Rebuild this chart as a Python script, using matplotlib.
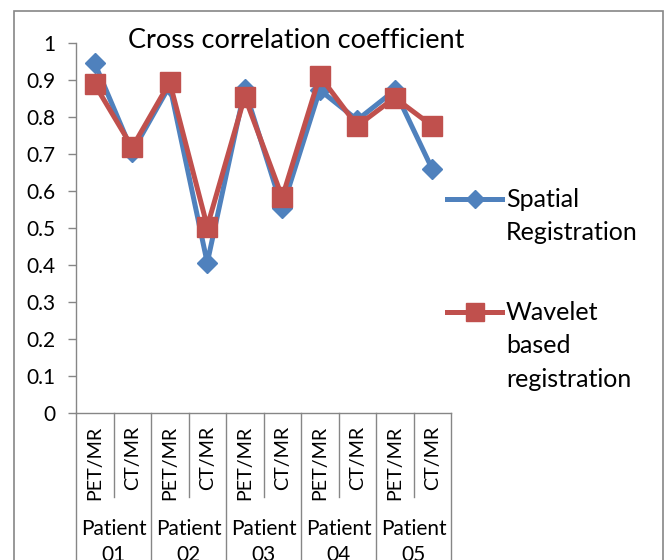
import matplotlib.pyplot as plt
import matplotlib.transforms as mtransforms
from matplotlib.lines import Line2D
from matplotlib.patches import Rectangle

plt.rcParams['font.family'] = ['Lato', 'DejaVu Sans']

# data
patients = ["Patient\n01", "Patient\n02", "Patient\n03", "Patient\n04", "Patient\n05"]
modalities = ["PET/MR", "CT/MR"]
spatial = [0.945, 0.706, 0.885, 0.406, 0.875, 0.553, 0.873, 0.792, 0.872, 0.659]
wavelet = [0.888, 0.718, 0.894, 0.504, 0.855, 0.583, 0.911, 0.776, 0.852, 0.776]
yticks = [0, 0.1, 0.2, 0.3, 0.4, 0.5, 0.6, 0.7, 0.8, 0.9, 1]

BLUE = "#4F81BD"
RED = "#C0504D"
GREY = "#868686"
W, H = 670, 560

fig = plt.figure(figsize=(6.7, 5.6), dpi=100)
ax = fig.add_axes([76 / W, 1 - 413 / H, (451 - 76) / W, (413 - 43) / H])

cats = [m for _ in patients for m in modalities]
x = list(range(len(cats)))

ax.plot(x, spatial, color=BLUE, lw=3.6, marker="D", ms=10, zorder=3)
ax.plot(x, wavelet, color=RED, lw=3.6, marker="s", ms=15, zorder=4)

ax.set_xlim(-0.5, len(cats) - 0.5)
ax.set_ylim(0, 1)
ax.set_yticks(yticks)
ax.set_yticklabels([f"{t:g}" for t in yticks], fontsize=15)
ax.tick_params(axis="y", length=6, width=1, color=GREY, pad=9)
ax.set_xticks(x)
ax.set_xticklabels(cats, rotation=90, fontsize=14.2, va="top")
ax.tick_params(axis="x", length=0, pad=9)
for s in ("top", "right"):
    ax.spines[s].set_visible(False)
for s in ("left", "bottom"):
    ax.spines[s].set_color(GREY)
    ax.spines[s].set_linewidth(1)

# category / group separators below the axis
trans = mtransforms.blended_transform_factory(ax.transData, ax.transAxes)
for i in range(len(cats) + 1):
    low = -0.45 if i % 2 == 0 else -0.227
    ax.plot([i - 0.5, i - 0.5], [0, low], transform=trans, color=GREY,
            lw=1, clip_on=False)
for g, name in enumerate(patients):
    ax.text(2 * g + 0.5, -0.287, name, transform=trans, ha="center", va="top",
            fontsize=15, linespacing=1.35)

fig.text(296 / W, 1 - 40 / H, "Cross correlation coefficient", ha="center",
         va="center", fontsize=19.5)

# legend drawn by hand so the handle sits on the first text line
for yy, col, mk, ms, label in [
    (199, BLUE, "D", 9, "Spatial\nRegistration"),
    (312, RED, "s", 13, "Wavelet\nbased\nregistration"),
]:
    fig.add_artist(Line2D([447 / W, 502 / W], [1 - yy / H, 1 - yy / H],
                          color=col, lw=3.6))
    fig.add_artist(Line2D([474.5 / W], [1 - yy / H], color=col, marker=mk,
                          ms=ms, lw=0))
    fig.text(506 / W, 1 - (yy - 11) / H, label, ha="left", va="top",
             fontsize=18, linespacing=1.55)

fig.add_artist(Rectangle((14 / W, -0.05), (663 - 14) / W, 1 - 11 / H + 0.05,
                         transform=fig.transFigure, fill=False,
                         edgecolor=GREY, lw=1.2))

fig.savefig("out.png", dpi=100)
